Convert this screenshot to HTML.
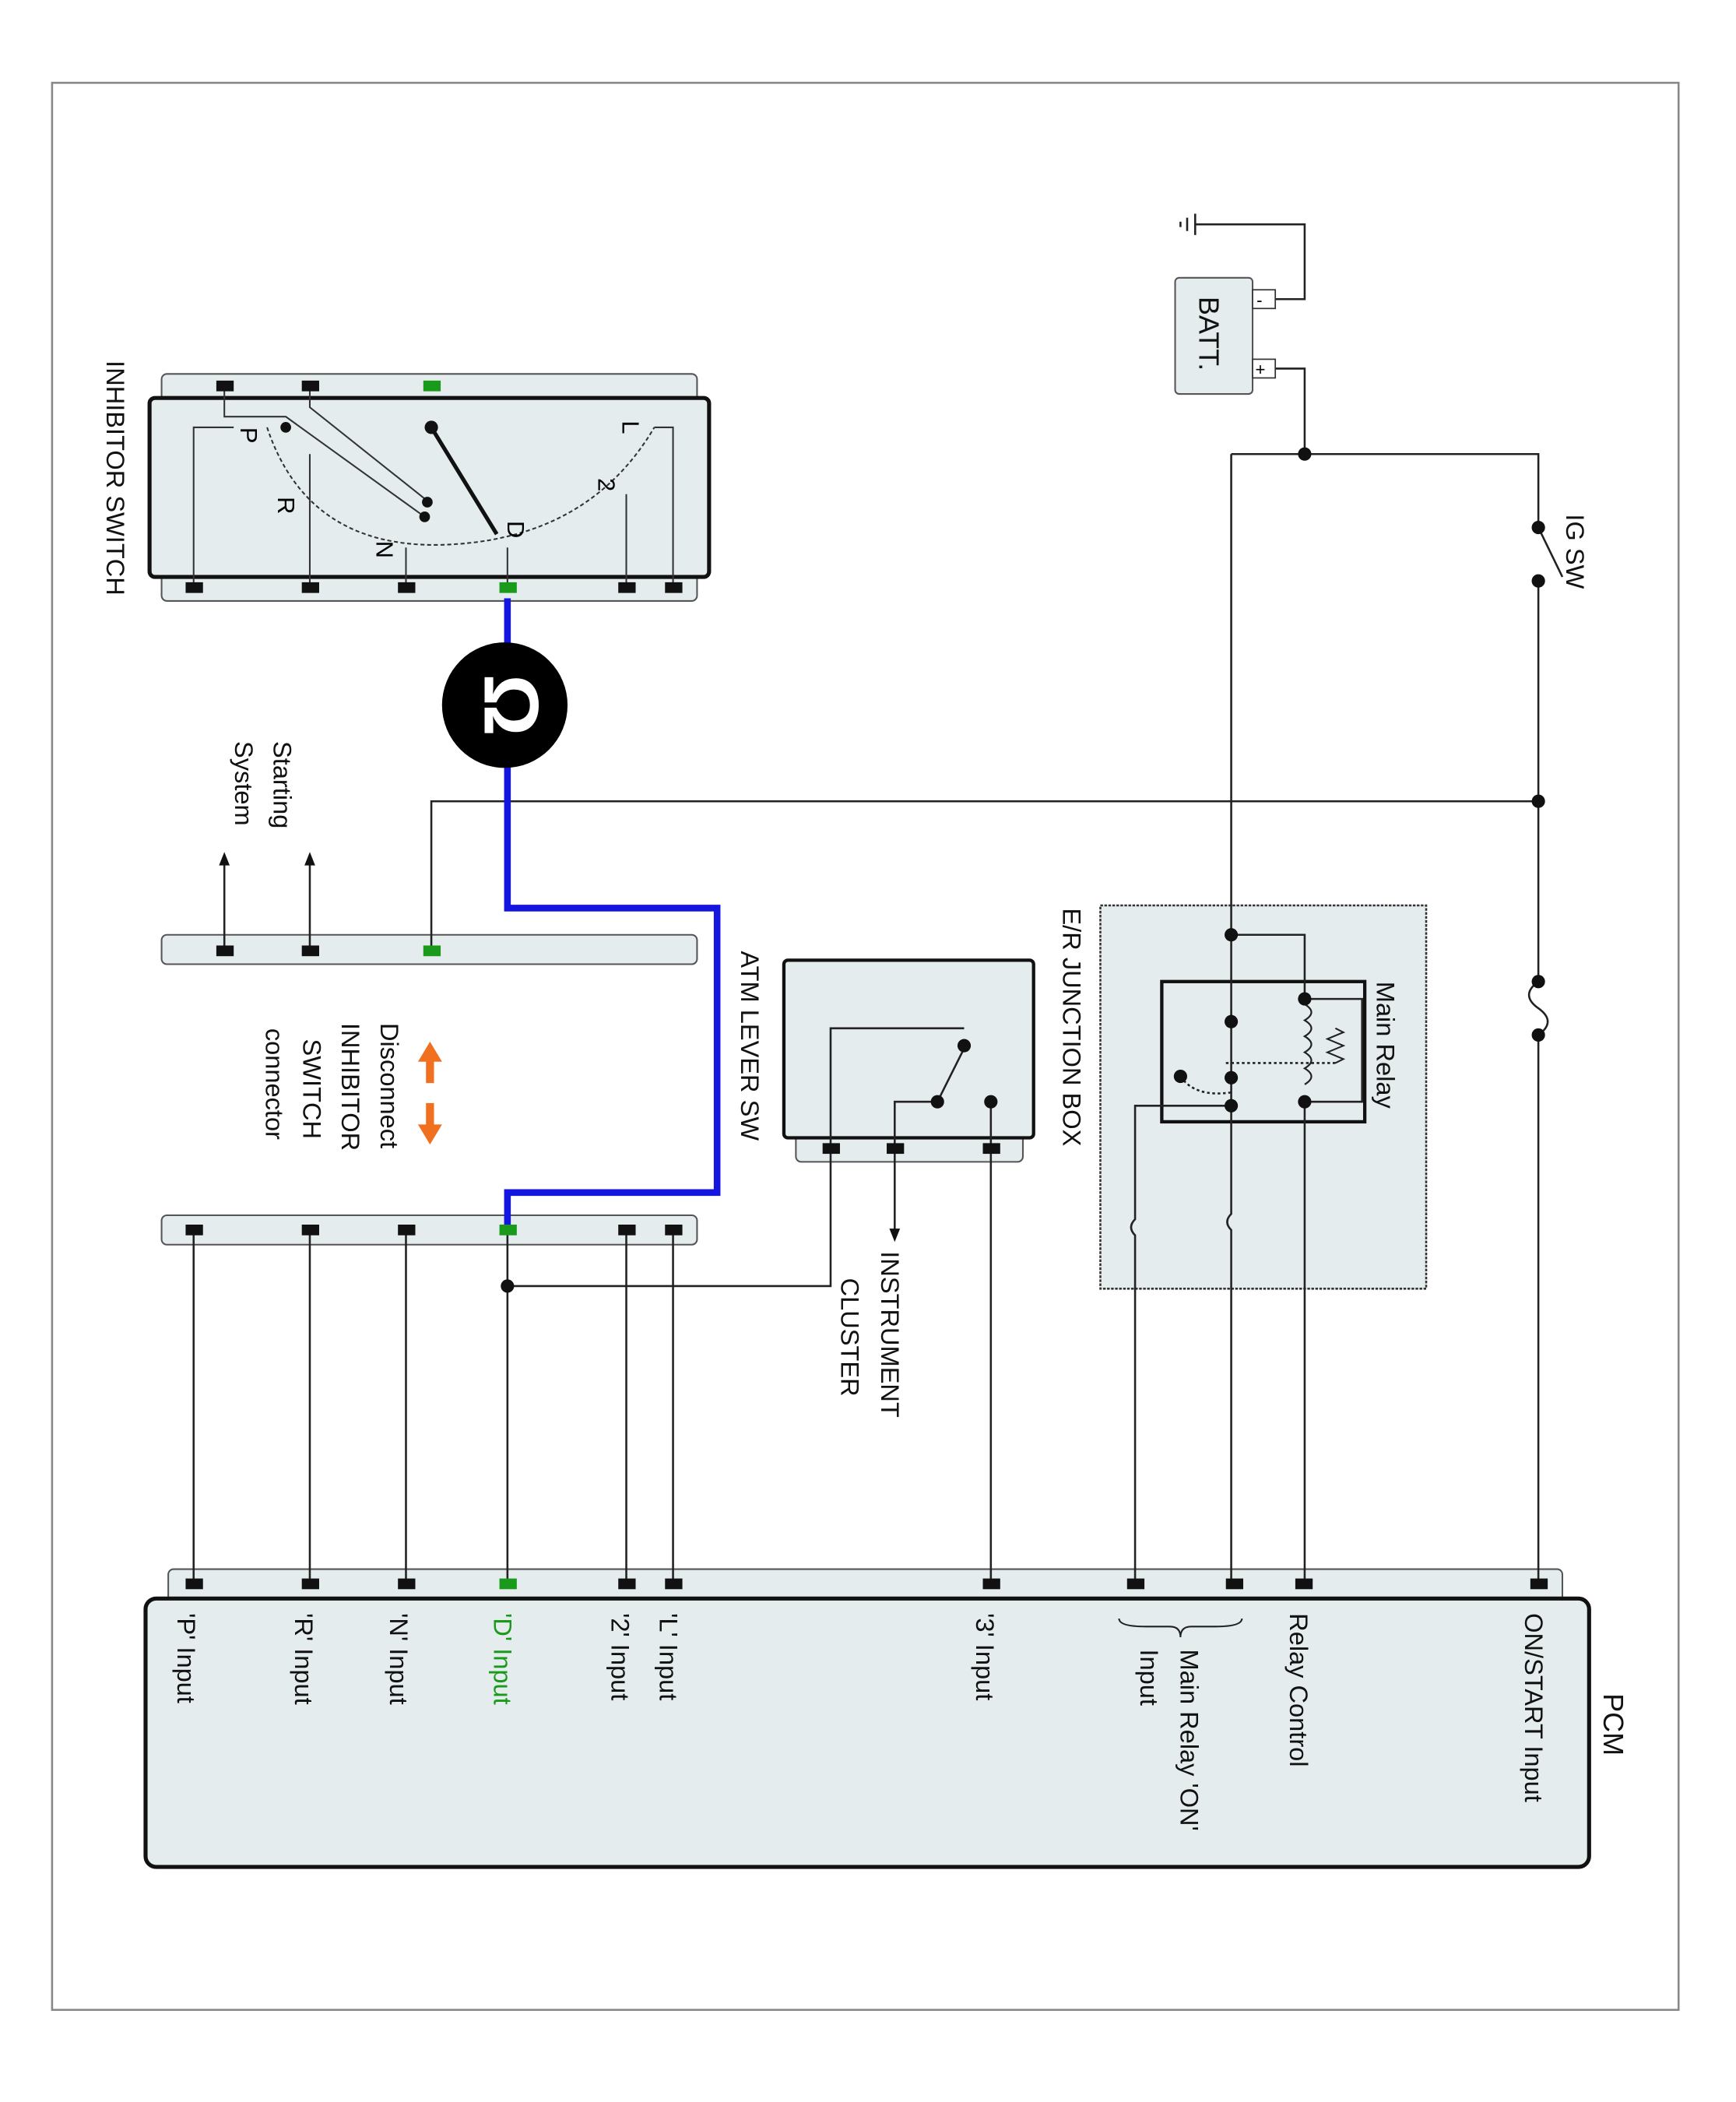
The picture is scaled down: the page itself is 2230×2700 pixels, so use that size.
<!DOCTYPE html>
<html><head><meta charset="utf-8"><style>html,body{margin:0;padding:0;background:#fff}svg{display:block}</style></head>
<body>
<svg xmlns="http://www.w3.org/2000/svg" width="2230" height="2700" viewBox="0 0 1300 1574" font-family="Liberation Sans, sans-serif" font-size="19">
<rect x="39" y="62" width="1218" height="1443" fill="none" stroke="#888" stroke-width="1.5"/>
<g fill="#e4eced" stroke="#555" stroke-width="1.2">
<rect x="121" y="280" width="401" height="170" rx="4"/>
<rect x="121" y="700" width="401" height="22" rx="4"/>
<rect x="121" y="910" width="401" height="22" rx="4"/>
<rect x="596" y="845" width="170" height="25" rx="4"/>
<rect x="126" y="1175" width="1044" height="30" rx="4"/>
<rect x="880" y="208" width="58" height="87" rx="3"/>
</g>
<rect x="112" y="298" width="419" height="134" rx="4" fill="#e4eced" stroke="#111" stroke-width="3"/>
<rect x="587" y="719" width="187" height="133" rx="3" fill="#e4eced" stroke="#111" stroke-width="2.5"/>
<rect x="824" y="678" width="244" height="287" fill="#e4eced" stroke="#333" stroke-width="1.5" stroke-dasharray="2,1"/>
<rect x="870" y="735" width="152" height="105" fill="#e4eced" stroke="#111" stroke-width="2.5"/>
<rect x="109" y="1197" width="1081" height="201" rx="8" fill="#e4eced" stroke="#111" stroke-width="3"/>
<g fill="none" stroke="#333" stroke-width="1.2">
<path d="M145 440 V320 H175"/><path d="M232 440 V340"/><path d="M304 440 V410"/><path d="M380 440 V410"/><path d="M469 440 V370"/><path d="M504 440 V320 H490"/>
<path d="M168 289 V312 H214 L318 387"/><path d="M232 289 V305 L320 375"/>
<path d="M200 320 Q 230 410 330 408 Q 440 405 490 320" stroke-dasharray="3,2"/>
</g>
<line x1="323" y1="320" x2="372" y2="400" stroke="#111" stroke-width="3"/>
<g fill="#111"><circle cx="214" cy="320" r="4"/><circle cx="318" cy="387" r="4"/><circle cx="320" cy="376" r="4"/><circle cx="323" cy="320" r="5"/></g>
<g font-size="18">
<text transform="translate(180,320) rotate(90)">P</text>
<text transform="translate(208,372) rotate(90)">R</text>
<text transform="translate(282,405) rotate(90)">N</text>
<text transform="translate(380,390) rotate(90)">D</text>
<text transform="translate(448,358) rotate(90)">2</text>
<text transform="translate(466,315) rotate(90)">L</text>
</g>
<g fill="none" stroke="#222" stroke-width="1.5">
<path d="M323 712 V600 H1152"/>
<path d="M168 712 V645"/><path d="M232 712 V645"/>
<path d="M145 921 V1186"/><path d="M232 921 V1186"/><path d="M304 921 V1186"/><path d="M380 921 V1186"/><path d="M469 921 V1186"/><path d="M504 921 V1186"/>
<path d="M622 860 V963 H380"/>
<path d="M670 860 V922"/>
<path d="M742 860 V1186"/><path d="M742 860 V825"/>
<path d="M622 860 V770 H722"/><path d="M670 860 V825 H702 L722 785"/>
<path d="M922 340 V909 q-6 6 0 12 V1186"/><path d="M922 700 H977 V748"/><path d="M977 825 V1186"/>
<path d="M977 748 H1020 V825 H977"/>
<path d="M850 1186 V925 q-6 -6 0 -12 V828 H922"/>
<path d="M884 806 Q 895 822 922 818" stroke-dasharray="2,2"/>
<path d="M918 796 H1000" stroke-dasharray="2,2"/>
<path d="M955 224 H977 V168 H895"/><path d="M955 276 H977 V340"/><path d="M922 340 H1152 V395"/>
<path d="M1152 395 L1170 432"/>
<path d="M1152 435 V735"/><path d="M1152 775 V1186"/>
<path d="M1152 735 q-14 10 0 20 q14 10 0 20"/>
<path d="M895 160 V176 M889 163 V173 M884 166 V170"/>
</g>
<path d="M977 752 q10 6 0 12 q10 6 0 12 q10 6 0 12 q10 6 0 12 q10 6 0 12" fill="none" stroke="#222" stroke-width="1.3"/>
<path d="M1000 770 l6 3 -12 5 12 5 -12 5 12 5 -6 3" fill="none" stroke="#222" stroke-width="1.2"/>
<polygon points="164,648 168,638 172,648" fill="#111"/><polygon points="228,648 232,638 236,648" fill="#111"/>
<polygon points="666,920 670,930 674,920" fill="#111"/>
<g fill="#111">
<circle cx="380" cy="963" r="5"/><circle cx="722" cy="783" r="5"/><circle cx="702" cy="825" r="5"/><circle cx="742" cy="825" r="5"/>
<circle cx="922" cy="700" r="5"/><circle cx="977" cy="748" r="5"/><circle cx="977" cy="825" r="5"/><circle cx="922" cy="765" r="5"/><circle cx="922" cy="807" r="5"/><circle cx="922" cy="828" r="5"/><circle cx="884" cy="806" r="5"/>
<circle cx="977" cy="340" r="5"/><circle cx="1152" cy="395" r="5"/><circle cx="1152" cy="435" r="5"/><circle cx="1152" cy="600" r="5"/><circle cx="1152" cy="735" r="5"/><circle cx="1152" cy="775" r="5"/>
</g>
<rect x="938" y="217" width="17" height="14" fill="#fff" stroke="#333"/><text x="941" y="229" font-size="13">-</text>
<rect x="938" y="269" width="17" height="14" fill="#fff" stroke="#333"/><text x="940" y="281" font-size="13">+</text>
<path d="M380 448 V680 H537 V893 H380 V920" fill="none" stroke="#1515e0" stroke-width="5"/>
<circle cx="378" cy="528" r="47" fill="#000"/>
<text transform="translate(363,528) rotate(90)" text-anchor="middle" font-size="58" font-weight="bold" fill="#fff">Ω</text>
<g fill="#111">
<rect x="162" y="285" width="13" height="8"/><rect x="226" y="285" width="13" height="8"/>
<rect x="139" y="436" width="13" height="8"/><rect x="226" y="436" width="13" height="8"/><rect x="298" y="436" width="13" height="8"/><rect x="463" y="436" width="13" height="8"/><rect x="498" y="436" width="13" height="8"/>
<rect x="162" y="708" width="13" height="8"/><rect x="226" y="708" width="13" height="8"/>
<rect x="139" y="917" width="13" height="8"/><rect x="226" y="917" width="13" height="8"/><rect x="298" y="917" width="13" height="8"/><rect x="463" y="917" width="13" height="8"/><rect x="498" y="917" width="13" height="8"/>
<rect x="616" y="856" width="13" height="8"/><rect x="664" y="856" width="13" height="8"/><rect x="736" y="856" width="13" height="8"/>
<rect x="139" y="1182" width="13" height="8"/><rect x="226" y="1182" width="13" height="8"/><rect x="298" y="1182" width="13" height="8"/><rect x="463" y="1182" width="13" height="8"/><rect x="498" y="1182" width="13" height="8"/><rect x="736" y="1182" width="13" height="8"/><rect x="844" y="1182" width="13" height="8"/><rect x="918" y="1182" width="13" height="8"/><rect x="970" y="1182" width="13" height="8"/><rect x="1146" y="1182" width="13" height="8"/>
</g>
<g fill="#1a9a1a">
<rect x="317" y="285" width="13" height="8"/><rect x="374" y="436" width="13" height="8"/><rect x="317" y="708" width="13" height="8"/><rect x="374" y="917" width="13" height="8"/><rect x="374" y="1182" width="13" height="8"/>
</g>
<g fill="#f07020"><rect x="319" y="793" width="6" height="18"/><polygon points="313,795 322,780 331,795"/><rect x="319" y="826" width="6" height="18"/><polygon points="313,842 322,857 331,842"/></g>
<g fill="#111">
<text transform="translate(80,270) rotate(90)">INHIBITOR SWITCH</text>
<text transform="translate(205,555) rotate(90)">Starting</text>
<text transform="translate(176,555) rotate(90)">System</text>
<text transform="translate(285,766) rotate(90)">Disconnect</text>
<text transform="translate(256,766) rotate(90)">INHIBITOR</text>
<text transform="translate(227,778) rotate(90)">SWITCH</text>
<text transform="translate(199,770) rotate(90)">connector</text>
<text transform="translate(555,712) rotate(90)">ATM LEVER SW</text>
<text transform="translate(660,937) rotate(90)">INSTRUMENT</text>
<text transform="translate(630,957) rotate(90)">CLUSTER</text>
<text transform="translate(796,680) rotate(90)">E/R JUNCTION BOX</text>
<text transform="translate(1031,735) rotate(90)">Main Relay</text>
<text transform="translate(898,222) rotate(90)" font-size="21">BATT.</text>
<text transform="translate(1173,385) rotate(90)">IG SW</text>
<text transform="translate(1201,1268) rotate(90)" font-size="21">PCM</text>
<text transform="translate(133,1208) rotate(90)">'P' Input</text>
<text transform="translate(221,1208) rotate(90)">'R' Input</text>
<text transform="translate(292,1208) rotate(90)">'N' Input</text>
<text transform="translate(370,1208) rotate(90)" fill="#1a9a1a">'D' Input</text>
<text transform="translate(458,1208) rotate(90)">'2' Input</text>
<text transform="translate(494,1208) rotate(90)">'L' Input</text>
<text transform="translate(731,1208) rotate(90)">'3' Input</text>
<text transform="translate(884,1235) rotate(90)">Main Relay 'ON'</text>
<text transform="translate(854,1235) rotate(90)">Input</text>
<text transform="translate(966,1208) rotate(90)">Relay Control</text>
<text transform="translate(1142,1208) rotate(90)">ON/START Input</text>
</g>
<path d="M838 1212 q0 6 20 6 h18 q8 0 8 8 q0 -8 8 -8 h18 q20 0 20 -6" fill="none" stroke="#222" stroke-width="1.2"/>
</svg>
</body></html>
